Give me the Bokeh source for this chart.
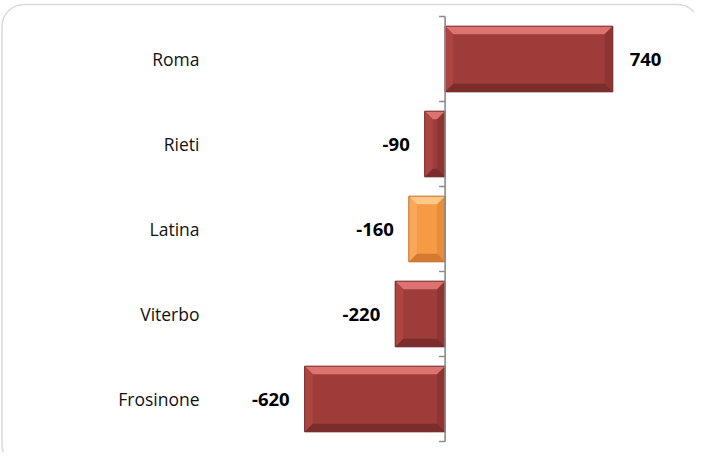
from bokeh.plotting import figure
from bokeh.models import Range1d, BoxAnnotation, ColumnDataSource
from bokeh.core.properties import value
from bokeh.embed import file_html
from bokeh.resources import INLINE

# ---- data ----
categories = ["Roma", "Rieti", "Latina", "Viterbo", "Frosinone"]
values = [740, -90, -160, -220, -620]
highlight = ["Latina"]

# ---- geometry (pixels) ----
W, H = 694, 452
ZERO_PX = 444.6          # x pixel of value 0
PX_PER_UNIT = 0.2265     # horizontal scale
BAND_PX = 85.0           # height of one category band
TOP_PX = 16.0            # top of first band
n = len(categories)

ux = 1.0 / PX_PER_UNIT   # data units per pixel (x)
uy = 1.0 / BAND_PX       # data units per pixel (y)
x_start = -ZERO_PX * ux
x_end = (W - ZERO_PX) * ux
y_end = n + 0.5 + TOP_PX * uy
y_start = y_end - H * uy

p = figure(width=W, height=H, output_backend="svg", toolbar_location=None,
           x_range=Range1d(x_start, x_end), y_range=Range1d(y_start, y_end),
           x_axis_location=None, y_axis_location=None, min_border=0,
           background_fill_color="white", border_fill_color="white")
p.outline_line_color = None
p.xgrid.visible = False
p.ygrid.visible = False

ys = [n - i for i in range(n)]
half = 0.385
bx_px, by_px = 8.0, 8.0

red = dict(main="#9E3C3A", top="#DC7370", left="#AA4542", right="#8E3432", bottom="#7A2D2B", edge="#7A2D2B")
orange = dict(main="#F79A46", top="#FFC789", left="#F9A758", right="#E88C3B", bottom="#D27A2F", edge="#C87430")

main = dict(x0=[], x1=[], y=[], c=[], e=[])
polys = dict(xs=[], ys=[], c=[])
for cat, v, y in zip(categories, values, ys):
    pal = orange if cat in highlight else red
    a, b = min(0, v), max(0, v)
    main["x0"].append(a); main["x1"].append(b); main["y"].append(y)
    main["c"].append(pal["main"]); main["e"].append(pal["edge"])
    bx = min(bx_px * ux, (b - a) / 2.0)
    by = by_px * uy
    t, btm = y + half, y - half
    polys["xs"] += [[a, b, b - bx, a + bx], [a, b, b - bx, a + bx],
                    [a, a + bx, a + bx, a], [b, b - bx, b - bx, b]]
    polys["ys"] += [[t, t, t - by, t - by], [btm, btm, btm + by, btm + by],
                    [t, t - by, btm + by, btm], [t, t - by, btm + by, btm]]
    polys["c"] += [pal["top"], pal["bottom"], pal["left"], pal["right"]]

src = ColumnDataSource(main)
p.hbar(y="y", left="x0", right="x1", height=2 * half, source=src,
       fill_color="c", line_color="e", line_width=0.8)
p.patches(xs="xs", ys="ys", fill_color="c", line_color=None,
          source=ColumnDataSource(polys))
p.hbar(y="y", left="x0", right="x1", height=2 * half, source=src,
       fill_alpha=0, line_color="e", line_width=0.8)

# zero axis line with category-boundary ticks
p.segment(x0=[0], y0=[0.5], x1=[0], y1=[n + 0.5], line_color="#8A8A8A", line_width=1.6)
tick_y = [k + 0.5 for k in range(n + 1)]
p.segment(x0=[-6 * ux] * len(tick_y), y0=tick_y, x1=[0] * len(tick_y), y1=tick_y,
          line_color="#8A8A8A", line_width=1.4)

# category labels
label_x = 199 * ux + x_start
p.text(x=[label_x] * n, y=ys, text=categories, text_align="right",
       text_baseline="middle", text_font=value("Open Sans"),
       text_font_size="17.5px", text_color="#111111")

# value labels
vsrc = ColumnDataSource(dict(
    x=values, y=ys, t=[str(v) for v in values],
    off=[17 if v > 0 else -15 for v in values],
    al=["left" if v > 0 else "right" for v in values]))
p.text(x="x", y="y", text="t", x_offset="off", text_align="al",
       text_baseline="middle", text_font=value("Open Sans"),
       text_font_style="bold", text_font_size="18.5px", text_color="#000000",
       source=vsrc)

# rounded chart-area frame
p.add_layout(BoxAnnotation(left=x_start + 1.5 * ux, right=x_start + 699 * ux,
                           top=y_end - 4.0 * uy, bottom=y_end - 466 * uy,
                           fill_alpha=0, line_color="#868686", line_width=1.5,
                           border_radius=22))

open("out.html", "w").write(file_html(p, INLINE))
